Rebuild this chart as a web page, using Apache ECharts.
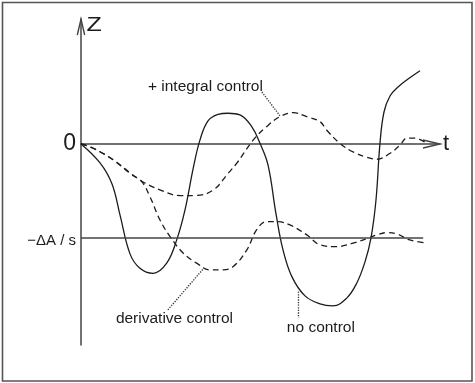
<!DOCTYPE html>
<html>
<head>
<meta charset="utf-8">
<script src="https://cdn.jsdelivr.net/npm/echarts@6/dist/echarts.min.js"></script>
<style>
  html, body { margin: 0; padding: 0; background: #fff; }
  #chart { width: 475px; height: 383px; }
</style>
</head>
<body>
<div id="chart"></div>
<script>
// Response of the controlled variable Z over time t
const tNoControl = [0, 0.53, 0.864, 1.086, 1.365, 1.643, 2.006, 2.387, 2.666, 2.897, 3.128, 3.315, 3.538, 3.816, 4.095, 4.429, 4.755, 4.986, 5.209, 5.432, 5.627, 5.877, 6.240, 6.657, 7.019, 7.401, 7.680, 7.911, 8.078, 8.217, 8.329, 8.440, 8.607, 8.830, 9.109, 9.443];
const zNoControl = [0, -0.202, -0.426, -0.755, -1.170, -1.324, -1.378, -1.269, -1.021, -0.702, -0.255, 0.043, 0.245, 0.314, 0.327, 0.309, 0.184, 0.007, -0.223, -0.745, -1.128, -1.415, -1.617, -1.702, -1.723, -1.641, -1.482, -1.255, -1.000, -0.596, 0.011, 0.340, 0.511, 0.606, 0.691, 0.780];

const tIntegral = [0, 0.34, 0.90, 1.64, 2.20, 2.76, 3.22, 3.69, 4.10, 4.34, 4.80, 5.17, 5.54, 5.91, 6.29, 6.66, 6.84, 7.21, 7.58, 7.96, 8.24, 8.61, 8.89, 9.07, 9.30, 9.63];
const zIntegral = [0, -0.046, -0.170, -0.383, -0.489, -0.550, -0.548, -0.489, -0.312, -0.205, 0.043, 0.184, 0.290, 0.333, 0.290, 0.237, 0.149, 0.007, -0.085, -0.141, -0.163, -0.099, -0.011, 0.061, 0.061, 0.007];

const tDerivative = [0, 0.34, 0.90, 1.36, 1.69, 1.92, 2.20, 2.48, 2.85, 3.22, 3.59, 3.96, 4.24, 4.62, 4.89, 5.17, 5.45, 5.82, 6.29, 6.66, 7.12, 7.58, 8.00, 8.24, 8.52, 8.79, 9.16, 9.63];
const zDerivative = [0, -0.046, -0.170, -0.312, -0.401, -0.561, -0.809, -0.986, -1.163, -1.269, -1.340, -1.340, -1.305, -1.128, -0.915, -0.827, -0.827, -0.862, -0.968, -1.074, -1.093, -1.056, -1.003, -0.968, -0.944, -0.957, -1.021, -1.056];

// Reference level −ΔA / s and its extent along t
const refLevel = -1;
const refEnd = 9.53;

// Leader lines from the captions to their curves: [[t0, z0], [t1, z1]]
const leaderIntegral = [[5.04, 0.553], [5.54, 0.300]];
const leaderDerivative = [[2.42, -1.766], [3.43, -1.319]];
const leaderNoControl = [[6.04, -1.571], [6.04, -1.851]];

const tMax = 10, zMin = -2.14, zMax = 1.33;

const zip = (xs, ys) => xs.map((x, i) => [x, ys[i]]);
const ink = '#1c1c1c';
const axisInk = '#444';
const font = '"Liberation Sans", Arial, sans-serif';

const dotted = { type: 'dotted', color: '#333', width: 1.3 };
const leader = seg => [
  { coord: seg[0], lineStyle: dotted },
  { coord: seg[1] }
];

const chart = echarts.init(document.getElementById('chart'), null, { renderer: 'canvas' });

chart.setOption({
  animation: false,
  backgroundColor: '#fff',
  grid: { left: 81, right: 35, top: 19, bottom: 38, containLabel: false, outerBoundsMode: 'none' },
  xAxis: {
    type: 'value', min: 0, max: tMax,
    name: 't', nameLocation: 'end', nameGap: 3,
    nameTextStyle: { fontFamily: font, fontSize: 22, color: ink, verticalAlign: 'middle', align: 'left' },
    axisLine: { onZero: true, lineStyle: { color: axisInk, width: 1.5 } },
    axisTick: { show: false }, axisLabel: { show: false }, splitLine: { show: false }
  },
  yAxis: {
    type: 'value', min: zMin, max: zMax,
    axisLine: { onZero: false, lineStyle: { color: axisInk, width: 1.5 } },
    axisTick: { show: false },
    axisLabel: {
      show: true, customValues: [0, refLevel], margin: 5,
      formatter: v => v === 0 ? '{big|0}' : '{small|−ΔA / s}',
      rich: {
        big: { fontFamily: font, fontSize: 23, color: ink },
        small: { fontFamily: font, fontSize: 15, color: ink, padding: [5, 0, 0, 0] }
      }
    },
    splitLine: { show: false }
  },
  series: [
    {
      name: 'no control', type: 'line', data: zip(tNoControl, zNoControl),
      symbol: 'none', smooth: 0.4, silent: true,
      lineStyle: { color: ink, width: 1.3 },
      markLine: {
        silent: true, symbol: ['none', 'none'], label: { show: false },
        data: [
          [{ coord: [0, refLevel], lineStyle: { type: 'solid', color: axisInk, width: 1.5 } }, { coord: [refEnd, refLevel] }],
          leader(leaderNoControl)
        ]
      }
    },
    {
      name: '+ integral control', type: 'line', data: zip(tIntegral, zIntegral),
      symbol: 'none', smooth: 0.4, silent: true,
      lineStyle: { color: ink, width: 1.3, type: [6, 4] },
      markLine: {
        silent: true, symbol: ['none', 'none'], label: { show: false },
        data: [leader(leaderIntegral)]
      }
    },
    {
      name: 'derivative control', type: 'line', data: zip(tDerivative, zDerivative),
      symbol: 'none', smooth: 0.4, silent: true,
      lineStyle: { color: ink, width: 1.3, type: [6, 4] },
      markLine: {
        silent: true, symbol: ['none', 'none'], label: { show: false },
        data: [leader(leaderDerivative)]
      }
    }
  ]
});

// Open arrowheads on both axes, the Z name, captions and the outer frame
const tTip = chart.convertToPixel({ gridIndex: 0 }, [tMax, 0]);
const zTip = chart.convertToPixel({ gridIndex: 0 }, [0, zMax]);
const capI = chart.convertToPixel({ gridIndex: 0 }, leaderIntegral[0]);
const capD = chart.convertToPixel({ gridIndex: 0 }, leaderDerivative[0]);
const capN = chart.convertToPixel({ gridIndex: 0 }, leaderNoControl[1]);
const textStyle = { fontFamily: font, fontSize: 15.5, fill: ink };

chart.setOption({
  graphic: [
    {
      type: 'rect', silent: true,
      shape: { x: 2.5, y: 2.5, width: 469.5, height: 378.5 },
      style: { fill: 'none', stroke: '#555', lineWidth: 1.6 }
    },
    {
      type: 'polyline', silent: true,
      shape: { points: [[tTip[0] - 17, tTip[1] - 4], [tTip[0], tTip[1]], [tTip[0] - 17, tTip[1] + 4]] },
      style: { fill: 'none', stroke: axisInk, lineWidth: 1.4 }
    },
    {
      type: 'polyline', silent: true,
      shape: { points: [[zTip[0] - 3.7, zTip[1] + 16], [zTip[0], zTip[1]], [zTip[0] + 3.7, zTip[1] + 16]] },
      style: { fill: 'none', stroke: axisInk, lineWidth: 1.4 }
    },
    {
      type: 'text', silent: true, x: zTip[0] + 5.5, y: zTip[1] + 6, scaleX: 1.25,
      style: { text: 'Z', fontFamily: font, fontSize: 20, fill: ink, align: 'left', verticalAlign: 'middle' }
    },
    {
      type: 'text', silent: true, x: capI[0] + 1, y: capI[1] - 5,
      style: Object.assign({ text: '+ integral control', align: 'right', verticalAlign: 'middle' }, textStyle)
    },
    {
      type: 'text', silent: true, x: capD[0] - 52, y: capD[1] + 9,
      style: Object.assign({ text: 'derivative control', align: 'left', verticalAlign: 'middle' }, textStyle)
    },
    {
      type: 'text', silent: true, x: capN[0] - 11, y: capN[1] + 10,
      style: Object.assign({ text: 'no control', align: 'left', verticalAlign: 'middle' }, textStyle)
    }
  ]
});
</script>
</body>
</html>
